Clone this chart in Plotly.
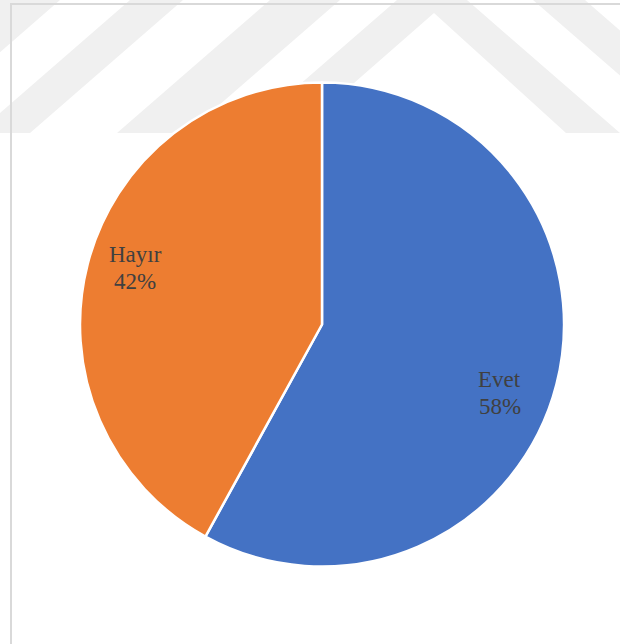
import math
import plotly.graph_objects as go

# Data
labels = ["Evet", "Hayır"]
values = [58, 42]
colors = ["#4472C4", "#ED7D31"]

# label nudges (pixels, style only)
label_dx = [-10, 1]
label_dy = [20, -8]

W, H = 620, 644


def px(x, y):
    return x / W, 1 - y / H


def path(points):
    pts = [px(x, y) for x, y in points]
    return "M " + " L ".join(f"{a:.4f},{b:.4f}" for a, b in pts) + " Z"


wm = "#f0f0f0"
shapes = []
# faint watermark bands
bands = [
    [(0, 0), (60, 0), (-93, 133), (-153, 133)],
    [(130, 0), (183, 0), (30, 133), (-23, 133)],
    [(270, 0), (340, 0), (187, 133), (117, 133)],
    [(244, 133), (397, 0), (467, 0), (620, 133), (566, 133), (434, 13), (297, 133)],
    [(533, 0), (585, 0), (738, 133), (686, 133)],
]
for b in bands:
    shapes.append(dict(type="path", path=path(b), xref="paper", yref="paper",
                       fillcolor=wm, line=dict(width=0), layer="below"))

# chart area border
x0, y0 = px(11, 4)
x1, y1 = px(640, 670)
shapes.append(dict(type="rect", xref="paper", yref="paper", x0=x0, y0=y1, x1=x1, y1=y0,
                   line=dict(color="#d9d9d9", width=2), fillcolor="rgba(0,0,0,0)", layer="below"))

CX, CY, R = 322, 324.5, 242
dx0, dy0 = px(CX - R, CY + R)
dx1, dy1 = px(CX + R, CY - R)

fig = go.Figure(go.Pie(
    labels=labels,
    values=values,
    marker=dict(colors=colors, line=dict(color="white", width=2.5)),
    sort=False,
    direction="clockwise",
    rotation=0,
    textinfo="none",
    hoverinfo="label+percent",
    showlegend=False,
    domain=dict(x=[dx0, dx1], y=[dy0, dy1]),
))

# data labels placed around the middle angle of each slice
total = sum(values)
cum = 0
annotations = []
font = dict(family="Liberation Serif", size=23, color="#404040")
for lab, v, ddx, ddy in zip(labels, values, label_dx, label_dy):
    mid = (cum + v / 2) / total * 2 * math.pi
    cum += v
    lx = CX + 0.8 * R * math.sin(mid) + ddx
    ly = CY - 0.8 * R * math.cos(mid) + ddy
    ax, ay = px(lx, ly)
    pct = f"{round(v / total * 100)}%"
    annotations.append(dict(x=ax, y=ay, xref="paper", yref="paper", text=lab,
                            xanchor="center", yanchor="middle",
                            showarrow=False, font=font, yshift=13.5))
    annotations.append(dict(x=ax, y=ay, xref="paper", yref="paper", text=pct,
                            xanchor="center", yanchor="middle",
                            showarrow=False, font=font, yshift=-13.5))

fig.update_layout(
    width=W, height=H,
    margin=dict(l=0, r=0, t=0, b=0),
    paper_bgcolor="white",
    plot_bgcolor="white",
    shapes=shapes,
    annotations=annotations,
)

fig.write_html("out.html", config={"displayModeBar": False},
               post_script="document.body.style.margin='0';document.body.style.padding='0';")
